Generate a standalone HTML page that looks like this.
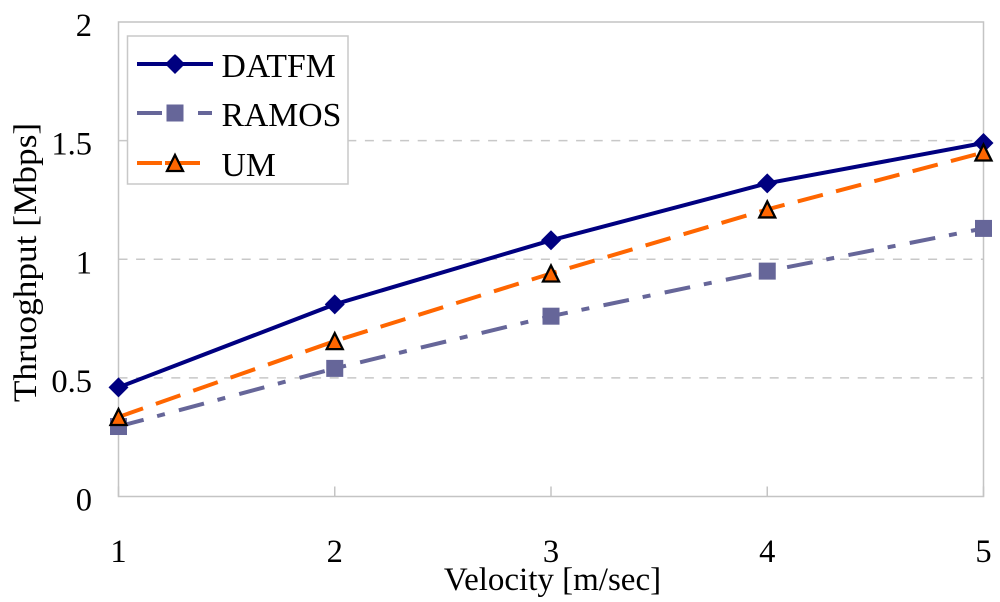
<!DOCTYPE html>
<html>
<head>
<meta charset="utf-8">
<style>
html,body{margin:0;padding:0;background:#fff;width:1000px;height:602px;overflow:hidden}
svg{display:block;font-family:"Liberation Serif",serif;fill:#000}
</style>
</head>
<body>
<svg id="chart" width="1000" height="602" viewBox="0 0 1000 602" xmlns="http://www.w3.org/2000/svg"></svg>
<script>
const categories = [1, 2, 3, 4, 5];
const yTicks = [0, 0.5, 1, 1.5, 2];
const datfmValues = [0.46, 0.81, 1.08, 1.32, 1.49];
const ramosValues = [0.295, 0.54, 0.76, 0.95, 1.13];
const umValues = [0.335, 0.655, 0.94, 1.21, 1.45];
const seriesNames = ['DATFM', 'RAMOS', 'UM'];

const NS = 'http://www.w3.org/2000/svg';
const svg = document.getElementById('chart');
const L = 118.5, R = 983.5, T = 22, B = 496.5;
const xScale = v => L + (v - categories[0]) / (categories[categories.length - 1] - categories[0]) * (R - L);
const yScale = v => B - v / 2 * (B - T);

function mk(tag, attrs, parent) {
  const el = document.createElementNS(NS, tag);
  for (const k in attrs) el.setAttribute(k, attrs[k]);
  (parent || svg).appendChild(el);
  return el;
}

// gridlines
yTicks.forEach(t => {
  if (t === 0 || t === 2) return;
  const g = mk('line', {x1: L, x2: R, y1: yScale(t), y2: yScale(t), stroke: '#c8c8c8', 'stroke-width': 1.5, 'stroke-dasharray': '9 8.6'});
  
  
});

// plot frame
const frame = mk('path', {d: `M${L} ${B}V${T}H${R}V${B}Z`, fill: 'none', stroke: '#c4c4c4', 'stroke-width': 1.5});



// x ticks
categories.forEach(c => {
  const t = mk('line', {x1: xScale(c), x2: xScale(c), y1: B - 10, y2: B, stroke: '#c4c4c4', 'stroke-width': 1.5});
  
  
  const lb = mk('text', {x: xScale(c), y: 562, 'text-anchor': 'middle', 'font-size': 32.5});
  lb.textContent = c;
  
  
});

// y tick labels
yTicks.forEach(t => {
  const lb = mk('text', {x: 92, y: yScale(t) + 14, 'text-anchor': 'end', 'font-size': 32.5});
  lb.textContent = t;
  
  
});

const xTitle = mk('text', {x: 552.5, y: 590, 'text-anchor': 'middle', 'font-size': 33});
xTitle.textContent = 'Velocity [m/sec]';



const yTitle = mk('text', {x: 0, y: 0, transform: 'translate(36 262.5) rotate(-90) scale(1.07 1)', 'text-anchor': 'middle', 'font-size': 33});
yTitle.textContent = 'Thruoghput [Mbps]';



// markers
function diamond(cx, cy, parent) {
  return mk('path', {d: `M${cx} ${cy - 10}L${cx + 10} ${cy}L${cx} ${cy + 10}L${cx - 10} ${cy}Z`, fill: '#000080'}, parent);
}
function square(cx, cy, parent) {
  return mk('rect', {x: cx - 8.5, y: cy - 8.5, width: 17, height: 17, fill: '#666699'}, parent);
}
function triangle(cx, cy, parent) {
  return mk('path', {d: `M${cx} ${cy - 8}L${cx + 8} ${cy + 8}L${cx - 8} ${cy + 8}Z`, fill: '#ff6600', stroke: '#000', 'stroke-width': 2.3, 'stroke-linejoin': 'miter'}, parent);
}

const styles = {
  RAMOS: {vals: ramosValues, color: '#666699', dash: '26 14 8 14.5', marker: square},
  UM: {vals: umValues, color: '#ff6600', dash: '26 13.6', marker: triangle},
  DATFM: {vals: datfmValues, color: '#000080', dash: 'none', marker: diamond}
};

// order: DATFM first, then RAMOS, then UM on top
seriesNames.forEach(name => {
  const s = styles[name];
  const g = mk('g', {});
  
  
  const pts = s.vals.map((v, i) => xScale(categories[i]) + ',' + yScale(v)).join(' ');
  mk('polyline', {points: pts, fill: 'none', stroke: s.color, 'stroke-width': 4, 'stroke-dasharray': s.dash}, g);
  s.vals.forEach((v, i) => {
    const m = s.marker(xScale(categories[i]), yScale(v), g);
    
    
  });
});

// legend
const legend = mk('g', {});


mk('rect', {x: 127.5, y: 36, width: 220.5, height: 148, fill: '#fff', stroke: '#c8c8c8', 'stroke-width': 1.5}, legend);
const legendRows = [64, 113, 163];
seriesNames.forEach((name, i) => {
  const s = styles[name];
  const y = legendRows[i];
  const row = mk('g', {}, legend);
  
  
  mk('line', {x1: 137, x2: 213, y1: y, y2: y, stroke: s.color, 'stroke-width': 4, 'stroke-dasharray': name === 'DATFM' ? 'none' : (name === 'RAMOS' ? '25 36 14 30' : '25 3 35 100')}, row);
  s.marker(175, y, row);
  const t = mk('text', {x: 221.5, y: y + 13, 'font-size': 33.7}, row);
  t.textContent = name;
});
</script>
</body>
</html>
